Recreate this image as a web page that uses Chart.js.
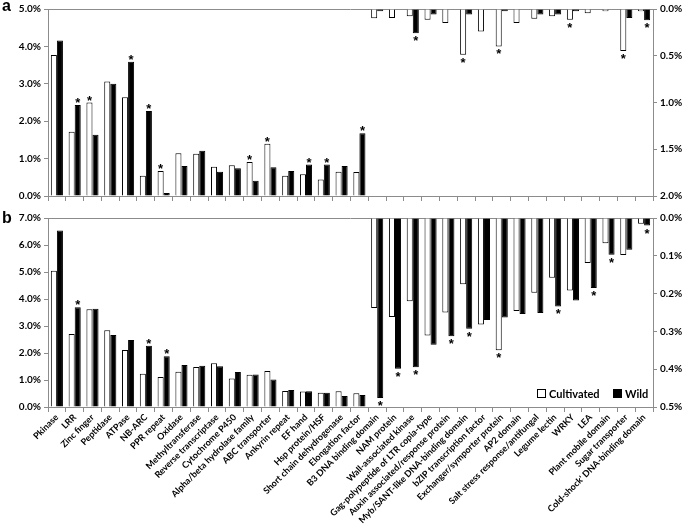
<!DOCTYPE html>
<html>
<head>
<meta charset="utf-8">
<script src="https://cdn.jsdelivr.net/npm/chart.js@4.4.0/dist/chart.umd.min.js"></script>
<style>
  body { margin: 0; background: #fff; }
  #wrap { position: relative; width: 685px; height: 530px; }
  .box { position: absolute; left: 0; width: 685px; }
  #boxA { top: 0; height: 205px; }
  #boxB { top: 205px; height: 325px; }
  .tag { position: absolute; left: 2px; font: bold 16px Arial, sans-serif; }
  #legend { position: absolute; left: 537px; top: 387px; font: bold 11px Lato, sans-serif; white-space: nowrap; }
  #legend i { display: inline-block; width: 7px; height: 7px; border: 1px solid #000; margin-right: 3px; vertical-align: -0px; }
</style>
</head>
<body>
<div id="wrap">
  <div class="box" id="boxA"><canvas id="chartA"></canvas></div>
  <div class="box" id="boxB"><canvas id="chartB"></canvas></div>
  <div class="tag" style="top:-3px">a</div>
  <div class="tag" style="top:209px">b</div>
  <div id="legend"><i style="background:#fff"></i>Cultivated &nbsp;&nbsp;&nbsp; <i style="background:#000"></i>Wild</div>
</div>
<script>
const categories = [
  "Pkinase", "LRR", "Zinc finger", "Peptidase", "ATPase", "NB-ARC", "PPR repeat",
  "Oxidase", "Methyltransferase", "Reverse transcriptase", "Cytochrome P450",
  "Alpha/beta hydrolase family", "ABC transporter", "Ankyrin repeat", "EF hand",
  "Hsp protein/HSF", "Short chain dehydrogenase", "Elongation factor",
  "B3 DNA binding domain", "NAM protein", "Wall-associated kinase",
  "Gag-polypeptide of LTR copia-type", "Auxin associated/response protein",
  "Myb/SANT-like DNA-binding domain", "bZIP transcription factor",
  "Exchanger/symporter protein", "AP2 domain", "Salt stress response/antifungal",
  "Legume lectin", "WRKY", "LEA", "Plant mobile domain", "Sugar transporter",
  "Cold-shock' DNA-binding domain"
];
// first 18 families are read on the left axis, the rest on the reversed right axis
const leftCount = 18;

// panel a (%)
const cultA = [3.77, 1.72, 2.50, 3.06, 2.64, 0.54, 0.67, 1.14, 1.13, 0.78, 0.82, 0.91, 1.40, 0.54, 0.58, 0.44, 0.65, 0.64,
  0.10, 0.095, 0.077, 0.115, 0.15, 0.49, 0.24, 0.40, 0.15, 0.105, 0.077, 0.115, 0.045, 0.025, 0.45, 0.025];
const wildA = [4.16, 2.43, 1.64, 3.00, 3.59, 2.27, 0.08, 0.80, 1.21, 0.65, 0.74, 0.41, 0.77, 0.67, 0.84, 0.84, 0.80, 1.68,
  0.025, 0, 0.26, 0.06, 0, 0.06, 0, 0.025, 0, 0.06, 0.06, 0.025, 0, 0, 0.095, 0.12];

// panel b (%)
const cultB = [5.05, 2.70, 3.62, 2.84, 2.11, 1.23, 1.11, 1.31, 1.48, 1.62, 1.06, 1.19, 1.33, 0.59, 0.57, 0.53, 0.58, 0.51,
  0.238, 0.262, 0.220, 0.311, 0.250, 0.175, 0.282, 0.350, 0.246, 0.198, 0.158, 0.192, 0.119, 0.067, 0.098, 0.015];
const wildB = [6.54, 3.69, 3.64, 2.67, 2.48, 2.27, 1.88, 1.56, 1.53, 1.51, 1.30, 1.20, 1.02, 0.63, 0.58, 0.53, 0.41, 0.44,
  0.476, 0.399, 0.395, 0.335, 0.313, 0.293, 0.270, 0.263, 0.254, 0.251, 0.234, 0.218, 0.185, 0.097, 0.084, 0.020];

// significant differences (asterisks)
const starsCultA = ["Zinc finger", "PPR repeat", "Alpha/beta hydrolase family", "ABC transporter",
  "Myb/SANT-like DNA-binding domain", "Exchanger/symporter protein", "WRKY", "Sugar transporter"];
const starsWildA = ["LRR", "ATPase", "NB-ARC", "EF hand", "Hsp protein/HSF", "Elongation factor",
  "Wall-associated kinase", "Cold-shock' DNA-binding domain"];
const starsCultB = ["Exchanger/symporter protein"];
const starsWildB = ["LRR", "NB-ARC", "PPR repeat", "B3 DNA binding domain", "NAM protein", "Wall-associated kinase",
  "Auxin associated/response protein", "Myb/SANT-like DNA-binding domain", "Legume lectin", "LEA",
  "Plant mobile domain", "Cold-shock' DNA-binding domain"];

const axisGray = "#8c8c8c";
const tickFont = { family: "Lato, sans-serif", size: 10, weight: "bold" };

const leftPart = arr => arr.map((v, i) => i < leftCount ? v : null);
const rightPart = arr => arr.map((v, i) => i >= leftCount ? v : null);
const starIdx = names => names.map(n => categories.indexOf(n));

const starPlugin = {
  id: "stars",
  afterDatasetsDraw(chart) {
    const ctx = chart.ctx;
    ctx.save();
    ctx.font = "bold 13px Arial, sans-serif";
    ctx.fillStyle = "#000";
    ctx.textAlign = "center";
    ctx.textBaseline = "alphabetic";
    chart.data.datasets.forEach((ds, di) => {
      const meta = chart.getDatasetMeta(di);
      ds.stars.forEach(i => {
        const bar = meta.data[i];
        // upward bars get the star above, hanging bars below
        const dy = ds.yAxisID === "y" ? 2 : 12;
        ctx.fillText("*", bar.x, bar.y + dy);
      });
    });
    ctx.restore();
  }
};

function makeChart(id, cult, wild, starsC, starsW, leftMax, leftStep, rightMax, rightStep, showLabels, padTop, xHeight) {
  const cs = starIdx(starsC), ws = starIdx(starsW);
  const bar = (label, data, axis, stack, fill, stars) => ({
    label, data, yAxisID: axis, stack,
    backgroundColor: fill, borderColor: "#000", borderWidth: 1,
    stars: stars.filter(i => data[i] !== null)
  });
  return new Chart(document.getElementById(id), {
    type: "bar",
    data: {
      labels: categories,
      datasets: [
        bar("Cultivated", leftPart(cult), "y", "c", "#fff", cs),
        bar("Wild", leftPart(wild), "y", "w", "#000", ws),
        bar("Cultivated", rightPart(cult), "y2", "c", "#fff", cs),
        bar("Wild", rightPart(wild), "y2", "w", "#000", ws)
      ]
    },
    options: {
      responsive: true,
      maintainAspectRatio: false,
      animation: false,
      categoryPercentage: 0.68,
      barPercentage: 1.0,
      layout: { padding: { top: padTop, left: 0, right: 0, bottom: 0 } },
      plugins: { legend: { display: false }, tooltip: { enabled: false } },
      scales: {
        x: {
          stacked: true,
          grid: { offset: true, drawOnChartArea: false, tickLength: 5, color: axisGray },
          border: { color: axisGray },
          ticks: {
            display: showLabels, autoSkip: false, minRotation: 45, maxRotation: 45,
            color: "#000", font: { family: "Lato, sans-serif", size: 9, weight: "bold" }, padding: 0
          },
          afterFit: s => { s.height = xHeight; }
        },
        y: {
          position: "left", stacked: false, min: 0, max: leftMax,
          grid: { drawOnChartArea: false, tickLength: 4, color: axisGray },
          border: { color: axisGray },
          ticks: { stepSize: leftStep, color: "#000", font: tickFont, padding: 3, callback: v => v.toFixed(1) + "%" },
          afterFit: s => { s.width = 48; }
        },
        y2: {
          position: "right", stacked: false, reverse: true, min: 0, max: rightMax,
          grid: {
            drawOnChartArea: true, tickLength: 4, tickColor: axisGray,
            color: c => (c.tick && c.tick.value === 0) ? axisGray : "rgba(0,0,0,0)"
          },
          border: { color: axisGray },
          ticks: { stepSize: rightStep, color: "#000", font: tickFont, padding: 3, callback: v => v.toFixed(1) + "%" },
          afterFit: s => { s.width = 32; }
        }
      }
    },
    plugins: [starPlugin]
  });
}

makeChart("chartA", cultA, wildA, starsCultA, starsWildA, 5, 1, 2, 0.5, false, 5, 7);
makeChart("chartB", cultB, wildB, starsCultB, starsWildB, 7, 1, 0.5, 0.1, true, 13, 123);
</script>
</body>
</html>
